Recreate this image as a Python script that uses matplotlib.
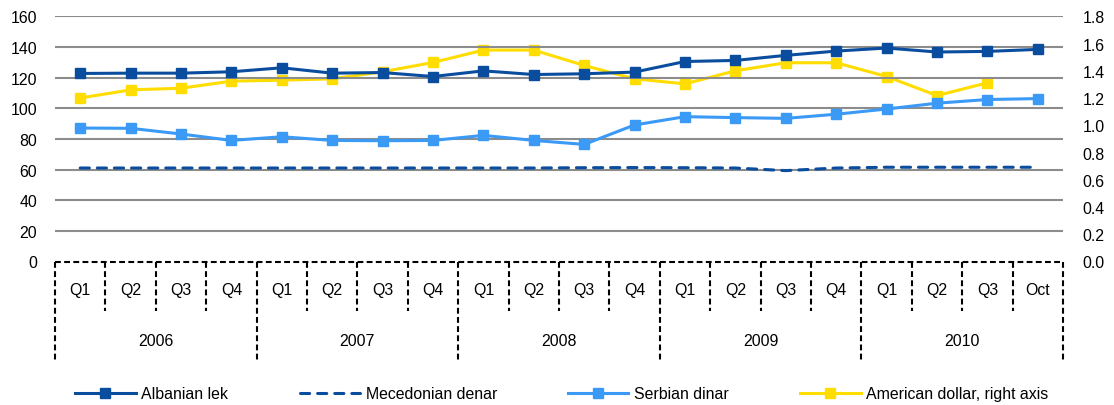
import numpy as np
import matplotlib
matplotlib.use('Agg')
import matplotlib.pyplot as plt
from matplotlib.lines import Line2D

plt.rcParams['font.family'] = ['Liberation Sans', 'DejaVu Sans']
plt.rcParams['font.size'] = 11.4

# ── Data ─────────────────────────────────────────────────────
quarters = ['Q1', 'Q2', 'Q3', 'Q4'] * 4 + ['Q1', 'Q2', 'Q3', 'Oct']
years = ['2006', '2007', '2008', '2009', '2010']

albanian_lek = [122.7, 122.9, 122.9, 123.8, 126.4, 122.9, 123.3, 120.7, 124.4, 122.0,
                122.5, 123.6, 130.5, 131.2, 134.5, 137.3, 139.3, 136.7, 137.1, 138.4]
macedonian_denar = [61.0, 61.0, 61.0, 61.0, 61.0, 61.0, 61.0, 61.0, 61.0, 61.0,
                    61.2, 61.3, 61.2, 61.0, 59.3, 61.0, 61.5, 61.5, 61.5, 61.5]
serbian_dinar = [87.1, 86.9, 83.2, 79.0, 81.4, 79.0, 78.8, 79.0, 82.3, 79.0,
                 76.4, 89.1, 94.5, 93.9, 93.4, 96.1, 99.5, 103.3, 105.7, 106.3]
us_dollar = [1.200, 1.260, 1.272, 1.324, 1.331, 1.341, 1.393, 1.461, 1.552, 1.552,
             1.439, 1.341, 1.304, 1.400, 1.459, 1.459, 1.358, 1.218, 1.312, np.nan]

DARK = '#0A4D9E'
LIGHT = '#3A9AF5'
YELLOW = '#FFDD00'
GRID = '#8C8C8C'

fig = plt.figure(figsize=(11.14, 4.06), dpi=100)
ax = fig.add_axes([55 / 1114, 1 - 262.5 / 406, (1063 - 55) / 1114, (262.5 - 17.3) / 406])
ax2 = ax.twinx()

x = np.arange(len(quarters))
lw = 2.2
ms = 6.8
dash = (3.0, 2.6)

ax.plot(x, albanian_lek, color=DARK, lw=lw, marker='s', ms=ms, zorder=4)
ax.plot(x, macedonian_denar, color=DARK, lw=lw, dashes=dash,
        dash_capstyle='round', zorder=4)
ax.plot(x, serbian_dinar, color=LIGHT, lw=lw, marker='s', ms=ms, zorder=4)
ax2.plot(x, us_dollar, color=YELLOW, lw=lw, marker='s', ms=ms, zorder=3)

ax.set_zorder(ax2.get_zorder() + 1)
ax.patch.set_visible(False)

ax.set_xlim(-0.5, len(quarters) - 0.5)
ax.set_ylim(0, 160)
ax.set_yticks(np.arange(0, 161, 20))
ax2.set_ylim(0, 1.8)
ax2.set_yticks(np.arange(0, 1.81, 0.2))
ax2.set_yticklabels([f'{v:.1f}' for v in np.arange(0, 1.81, 0.2)])

for v in range(20, 161, 20):
    ax.axhline(v, color=GRID, lw=1.5, zorder=1)

for a in (ax, ax2):
    for s in a.spines.values():
        s.set_visible(False)
    a.tick_params(length=0)
ax.tick_params(axis='y', pad=13)
ax2.tick_params(axis='y', pad=14)
ax.set_xticks([])

# ── Multi-level category axis ────────────────────────────────
trans = ax.get_xaxis_transform()
dash_kw = dict(color='black', lw=1.5, linestyle=(0, (2.8, 1.6)), transform=trans, clip_on=False)
ax.plot([-0.5, len(quarters) - 0.5], [0, 0], **dash_kw)
for i in range(len(quarters) + 1):
    bottom = -0.41 if i % 4 == 0 else -0.202
    ax.plot([i - 0.5, i - 0.5], [0, bottom], **dash_kw)
for i, q in enumerate(quarters):
    ax.text(i, -0.115, q, transform=trans, ha='center', va='center')
for j, yr in enumerate(years):
    ax.text(j * 4 + 1.5, -0.322, yr, transform=trans, ha='center', va='center')

# ── Legend ───────────────────────────────────────────────────
handles = [
    Line2D([], [], color=DARK, lw=lw, marker='s', ms=ms),
    Line2D([], [], color=DARK, lw=lw, dashes=dash, dash_capstyle='round'),
    Line2D([], [], color=LIGHT, lw=lw, marker='s', ms=ms),
    Line2D([], [], color=YELLOW, lw=lw, marker='s', ms=ms),
]
labels = ['Albanian lek', 'Mecedonian denar', 'Serbian dinar', 'American dollar, right axis']
fig.legend(handles, labels, loc='center', bbox_to_anchor=(562 / 1114, 1 - 395 / 406),
           ncol=4, frameon=False, handlelength=3.8, handletextpad=0.37,
           columnspacing=4.5, borderaxespad=0, borderpad=0)

fig.savefig('out.png', dpi=100)
